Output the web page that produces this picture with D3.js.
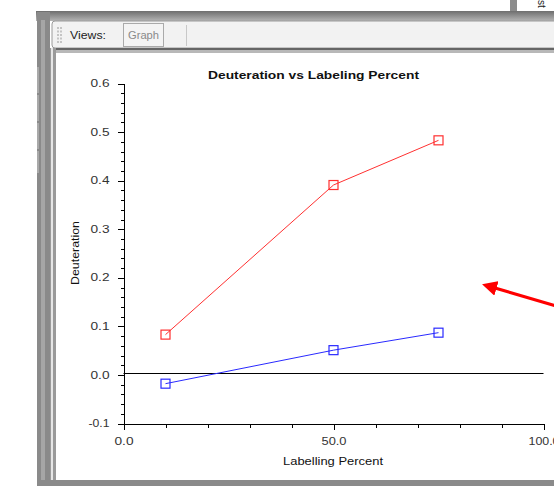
<!DOCTYPE html>
<html>
<head>
<meta charset="utf-8">
<script src="https://cdn.jsdelivr.net/npm/d3@7.9.0/dist/d3.min.js"></script>
<style>
  html, body { margin: 0; padding: 0; background: #fff; }
  svg { display: block; font-family: "Liberation Sans", Arial, sans-serif; }
  .axis text { fill: #333; font-size: 10px; font-family: "Liberation Sans", Arial, sans-serif; }
  .axis path, .axis line { stroke: #000; shape-rendering: crispEdges; }
</style>
</head>
<body>
<svg id="chart" width="554" height="486"></svg>
<script>
// data
const labelPercent = [10, 50, 75];
const redSeries = [0.083, 0.391, 0.483];
const blueSeries = [-0.018, 0.051, 0.087];
const xTicks = [0, 50, 100];
const yTicks = [-0.1, 0.0, 0.1, 0.2, 0.3, 0.4, 0.5, 0.6];

const svg = d3.select('#chart');
const defs = svg.append('defs');

// --- window chrome ---
const chrome = svg.append('g');
let topGrad = defs.append('linearGradient')
    .attr('id', 'topbar').attr('x1', 0).attr('y1', 0).attr('x2', 0).attr('y2', 1);
topGrad.append('stop').attr('offset', 0).attr('stop-color', '#6e6e6e');
topGrad.append('stop').attr('offset', 1).attr('stop-color', '#b4b4b4');

chrome.append('rect').attr('x', 510).attr('y', 0).attr('width', 7).attr('height', 12).attr('fill', '#8c8c8c');
chrome.append('text').attr('transform', 'translate(541,0) rotate(90)')
    .attr('font-size', 10).attr('fill', '#222').attr('dy', 3).text('st');

chrome.append('rect').attr('x', 36).attr('y', 11).attr('width', 518).attr('height', 10).attr('fill', 'url(#topbar)');
chrome.append('rect').attr('x', 37).attr('y', 12).attr('width', 13).attr('height', 474).attr('fill', '#8a8a8a');
chrome.append('rect').attr('x', 41).attr('y', 20).attr('width', 4).attr('height', 460).attr('fill', '#a6a6a6');
chrome.append('line').attr('x1', 38).attr('x2', 38).attr('y1', 67).attr('y2', 173)
    .attr('stroke', '#c8c8c8').attr('stroke-dasharray', '26,2');
chrome.append('rect').attr('x', 37).attr('y', 480).attr('width', 517).attr('height', 6).attr('fill', '#8a8a8a');

// toolbar
chrome.append('rect').attr('x', 52).attr('y', 21).attr('width', 510).attr('height', 27)
    .attr('rx', 3).attr('fill', '#f2f2f2').attr('stroke', '#9a9a9a');
chrome.append('rect').attr('x', 52).attr('y', 48).attr('width', 502).attr('height', 2).attr('fill', '#666');
chrome.append('rect').attr('x', 52).attr('y', 50).attr('width', 502).attr('height', 3).attr('fill', '#b8b8b8');
chrome.append('rect').attr('x', 50).attr('y', 48).attr('width', 6).attr('height', 432).attr('fill', '#9a9a9a');
chrome.append('rect').attr('x', 51).attr('y', 48).attr('width', 2).attr('height', 432).attr('fill', '#e6e6e6');
for (let r = 0; r < 5; r++) {
  for (let c = 0; c < 2; c++) {
    chrome.append('rect').attr('x', 57 + c * 3).attr('y', 27 + r * 3.5)
        .attr('width', 2).attr('height', 2).attr('fill', '#c4c4c4');
  }
}
chrome.append('text').attr('x', 70).attr('y', 39).attr('font-size', 11).attr('fill', '#222')
    .attr('textLength', 36).attr('lengthAdjust', 'spacingAndGlyphs').text('Views:');
chrome.append('rect').attr('x', 123.5).attr('y', 23.5).attr('width', 40).attr('height', 23)
    .attr('fill', '#f4f4f4').attr('stroke', '#aaa');
chrome.append('text').attr('x', 143.5).attr('y', 39).attr('font-size', 11).attr('fill', '#8a8a8a')
    .attr('text-anchor', 'middle').attr('textLength', 31).attr('lengthAdjust', 'spacingAndGlyphs')
    .text('Graph');
chrome.append('line').attr('x1', 186.5).attr('x2', 186.5).attr('y1', 25).attr('y2', 46).attr('stroke', '#c8c8c8');

// --- plot ---
const x = d3.scaleLinear().domain([0, 100]).range([123.5, 543.5]);
const y = d3.scaleLinear().domain([-0.1, 0.6]).range([423.5, 83.5]);

const yMinor = d3.range(-0.1, 0.6001, 0.02).map(v => +v.toFixed(2));
const xMinor = d3.range(0, 100.01, 10);
const fmt = d => d3.format('.1f')(d).replace('\u2212', '-');
// the screenshot's labels are stretched wider than the font would be
const tickLen = s => ({ 3: 19, 4: s.startsWith('-') ? 21 : 25, 5: 31 })[s.length];

svg.append('g').attr('class', 'axis').attr('transform', 'translate(123.5,0)')
    .call(d3.axisLeft(y).tickValues(yMinor).tickSize(3).tickSizeOuter(0).tickFormat(''));
svg.append('g').attr('class', 'axis').attr('transform', 'translate(123.5,0)')
    .call(d3.axisLeft(y).tickValues(yTicks).tickSize(6).tickSizeOuter(0).tickPadding(8)
      .tickFormat(fmt))
    .selectAll('text').attr('textLength', d => tickLen(fmt(d))).attr('lengthAdjust', 'spacingAndGlyphs');

svg.append('g').attr('class', 'axis').attr('transform', 'translate(0,423.5)')
    .call(d3.axisBottom(x).tickValues(xMinor).tickSize(4).tickSizeOuter(0).tickFormat(''));
svg.append('g').attr('class', 'axis').attr('transform', 'translate(0,423.5)')
    .call(d3.axisBottom(x).tickValues(xTicks).tickSize(6).tickSizeOuter(0).tickPadding(8)
      .tickFormat(fmt))
    .selectAll('text').attr('textLength', d => tickLen(fmt(d))).attr('lengthAdjust', 'spacingAndGlyphs');

// zero line
svg.append('line').attr('x1', x(0)).attr('x2', x(100))
    .attr('y1', Math.floor(y(0)) - 0.5).attr('y2', Math.floor(y(0)) - 0.5)
    .attr('stroke', '#000');

const line = d3.line().x((d, i) => x(labelPercent[i])).y(d => y(d));

function drawSeries(vals, color) {
  svg.append('path').datum(vals).attr('d', line)
      .attr('fill', 'none').attr('stroke', color).attr('stroke-width', 1);
  svg.selectAll(null).data(vals).enter().append('rect')
      .attr('x', (d, i) => x(labelPercent[i]) - 4.5)
      .attr('y', d => y(d) - 4.5)
      .attr('width', 9).attr('height', 9)
      .attr('fill', 'none').attr('stroke', color).attr('stroke-width', 1.2);
}
drawSeries(redSeries, '#ff3030');
drawSeries(blueSeries, '#2a2aff');

svg.append('text').attr('x', 313.5).attr('y', 79).attr('text-anchor', 'middle')
    .attr('font-size', 11).attr('font-weight', 'bold').attr('fill', '#111')
    .attr('textLength', 211).attr('lengthAdjust', 'spacingAndGlyphs')
    .text('Deuteration vs Labeling Percent');
svg.append('text').attr('transform', 'translate(79,253) rotate(-90)').attr('text-anchor', 'middle')
    .attr('font-size', 10).attr('fill', '#111')
    .attr('textLength', 64).attr('lengthAdjust', 'spacingAndGlyphs').text('Deuteration');
svg.append('text').attr('x', 333).attr('y', 465).attr('text-anchor', 'middle')
    .attr('font-size', 10).attr('fill', '#111')
    .attr('textLength', 100).attr('lengthAdjust', 'spacingAndGlyphs').text('Labelling Percent');

// red annotation arrow
defs.append('marker').attr('id', 'arrowhead').attr('viewBox', '0 0 10 10')
    .attr('refX', 1).attr('refY', 5).attr('markerWidth', 5).attr('markerHeight', 5)
    .attr('orient', 'auto-start-reverse')
    .append('path').attr('d', 'M0,0 L10,5 L0,10 z').attr('fill', '#ff0000');
svg.append('line').attr('x1', 556).attr('y1', 306).attr('x2', 495).attr('y2', 288)
    .attr('stroke', '#ff0000').attr('stroke-width', 3)
    .attr('marker-end', 'url(#arrowhead)');
</script>
</body>
</html>
